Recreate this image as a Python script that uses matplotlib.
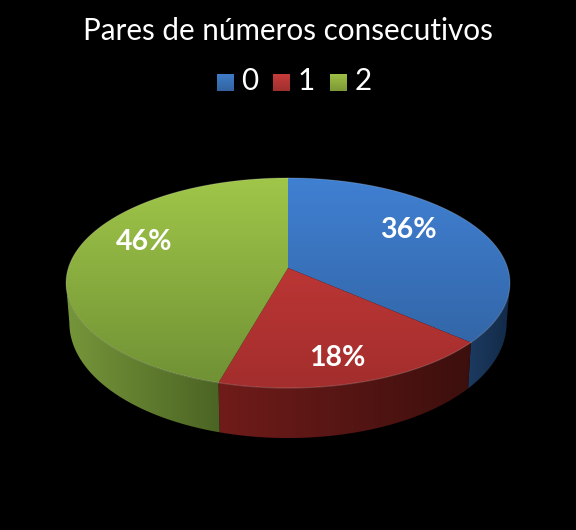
import numpy as np
import matplotlib
matplotlib.use('Agg')
import matplotlib.pyplot as plt
from matplotlib.patches import Polygon
from matplotlib.colors import to_rgb

# data
categories = ['0', '1', '2']
values = [36.4, 18.0, 45.6]
title = 'Pares de números consecutivos'

# (top of face, bottom of face)
top_colors = [('#4080d2', '#2f5f9c'), ('#cc3c3a', '#a32e2d'), ('#a0c649', '#6f9034')]
# (left of side, right of side)
side_colors = [('#1c3a60', '#122a48'), ('#701c1a', '#3c0f0d'), ('#76963a', '#4b6424')]
legend_colors = ['#3f7cc8', '#c63c3a', '#9dbf45']
label_pos = [(408, 229.5), (337, 358.5), (144, 242.5)]

# pie geometry in pixels, the tilted disc is a perspective view of a circle
cx, cy = 288, 268
a, b, k = 219.7, 102.9, 1 / 7


def project(t, lower=False):
    u, v = np.sin(t), -np.cos(t)
    s = 1 / (1 - k * v)
    x = cx + a * u * s
    y = cy + b * v * s
    if lower:
        x = cx + 0.985 * (x - cx)
        y = y + 38 + 12 * v
    return x, y


def gradient(ax, poly, c1, c2, extent, vertical=True):
    ramp = np.linspace(to_rgb(c1), to_rgb(c2), 256)
    img = ramp[:, None, :] if vertical else ramp[None, :, :]
    im = ax.imshow(img, extent=extent, aspect='auto', interpolation='bilinear', zorder=2)
    patch = Polygon(poly, closed=True, transform=ax.transData, fc='none', ec='none')
    ax.add_patch(patch)
    im.set_clip_path(patch)


fig = plt.figure(figsize=(5.76, 5.30), dpi=100, facecolor='black')
ax = fig.add_axes([0, 0, 1, 1])
ax.set_facecolor('black')

edges = np.radians(np.concatenate([[0], np.cumsum(values)]) / np.sum(values) * 360)
t_right = np.arccos(-k)
t_left = 2 * np.pi - t_right

for i in range(len(values)):
    # side wall, only the part turned to the viewer
    t0, t1 = max(edges[i], t_right), min(edges[i + 1], t_left)
    ts = np.linspace(t0, t1, 120)
    xu, yu = project(ts)
    xl, yl = project(ts, lower=True)
    poly = np.vstack([np.column_stack([xu, yu]), np.column_stack([xl, yl])[::-1]])
    xs = poly[:, 0]
    gradient(ax, poly, side_colors[i][0], side_colors[i][1],
             (xs.min(), xs.max(), 530, 0), vertical=False)

for i in range(len(values)):
    # top face
    ts = np.linspace(edges[i], edges[i + 1], 200)
    x, y = project(ts)
    poly = np.vstack([[cx, cy], np.column_stack([x, y])])
    gradient(ax, poly, top_colors[i][0], top_colors[i][1], (0, 576, 388, 178))
    # light rim on the front edge
    ax.plot(x, y, color='white', alpha=0.18, lw=0.8, zorder=3)
    ax.text(label_pos[i][0], label_pos[i][1], f'{values[i]:.0f}%', color='white',
            fontsize=20.5, fontweight='bold', family='Lato', ha='center', va='center', zorder=4)

ax.text(288, 31, title, color='white', fontsize=21.3, family='Lato', ha='center', va='center')

# legend
swatch_x = [217, 273, 330]
for i, name in enumerate(categories):
    c = legend_colors[i]
    sx = swatch_x[i]
    ramp = np.linspace(to_rgb(c), np.array(to_rgb(c)) * 0.8, 32)
    ax.imshow(ramp[:, None, :], extent=(sx, sx + 17, 91, 74), aspect='auto', zorder=2)
    ax.text(sx + 33, 81.5, name, color='white', fontsize=21.3, family='Lato', ha='center', va='center')

ax.set_xlim(0, 576)
ax.set_ylim(530, 0)
ax.axis('off')
fig.savefig('out.png', dpi=100, facecolor='black')
